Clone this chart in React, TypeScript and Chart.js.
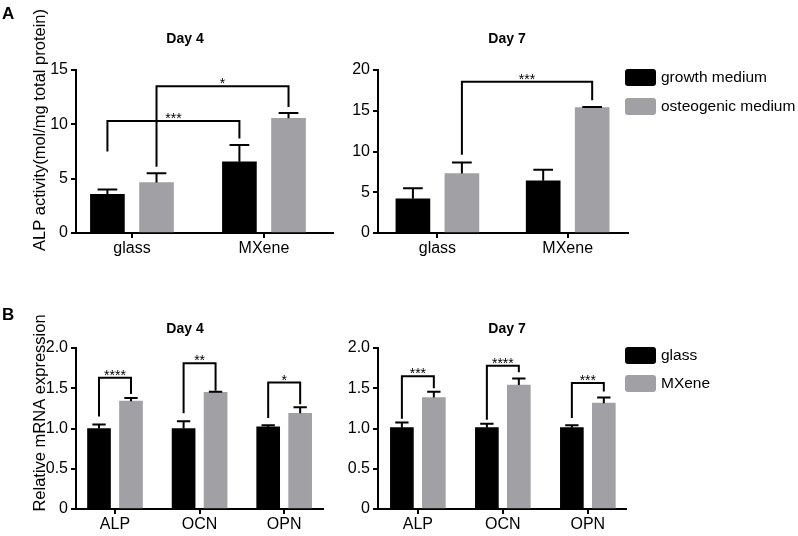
import React, { useEffect, useRef } from 'react';
import { Chart, registerables } from 'chart.js';

Chart.register(...registerables);

const W = 798;
const H = 536;
const FONT = "'Liberation Sans', Arial, Helvetica, sans-serif";
const BLACK = '#000000';
const GRAY = '#a1a1a5';

// ---------- Data: panel A (ALP activity) ----------
const A_CATEGORIES = ['glass', 'MXene'];
const A_SERIES = ['growth medium', 'osteogenic medium'];
const A_TICKS = [0, 5, 10, 15, 20];

const A4_GROWTH = [3.55, 6.55];
const A4_GROWTH_ERR = [0.45, 1.55];
const A4_OSTEO = [4.65, 10.55];
const A4_OSTEO_ERR = [0.85, 0.5];

const A7_GROWTH = [4.2, 6.4];
const A7_GROWTH_ERR = [1.3, 1.35];
const A7_OSTEO = [7.3, 15.4];
const A7_OSTEO_ERR = [1.35, 0.05];

// ---------- Data: panel B (relative mRNA expression) ----------
const B_CATEGORIES = ['ALP', 'OCN', 'OPN'];
const B_SERIES = ['glass', 'MXene'];
const B_TICKS = [0, 0.5, 1.0, 1.5, 2.0];

const B4_GLASS = [1.0, 1.0, 1.02];
const B4_GLASS_ERR = [0.05, 0.09, 0.02];
const B4_MXENE = [1.34, 1.45, 1.19];
const B4_MXENE_ERR = [0.04, 0.005, 0.075];

const B7_GLASS = [1.01, 1.01, 1.01];
const B7_GLASS_ERR = [0.065, 0.05, 0.03];
const B7_MXENE = [1.385, 1.54, 1.315];
const B7_MXENE_ERR = [0.07, 0.08, 0.07];

// ---------- Significance brackets (data units) ----------
type Bracket = { from: [number, number]; to: [number, number]; top: number; left: number; right: number; text: string };

const A4_BRACKETS: Bracket[] = [
  { from: [0, 0], to: [1, 0], top: 10.3, left: 7.5, right: 8.7, text: '***' },
  { from: [0, 1], to: [1, 1], top: 13.5, left: 6.1, right: 11.6, text: '*' },
];
const A7_BRACKETS: Bracket[] = [
  { from: [0, 1], to: [1, 1], top: 18.55, left: 9.6, right: 16.3, text: '***' },
];
const B4_BRACKETS: Bracket[] = [
  { from: [0, 0], to: [0, 1], top: 1.63, left: 1.15, right: 1.43, text: '****' },
  { from: [1, 0], to: [1, 1], top: 1.81, left: 1.19, right: 1.47, text: '**' },
  { from: [2, 0], to: [2, 1], top: 1.57, left: 1.13, right: 1.3, text: '*' },
];
const B7_BRACKETS: Bracket[] = [
  { from: [0, 0], to: [0, 1], top: 1.65, left: 1.12, right: 1.5, text: '***' },
  { from: [1, 0], to: [1, 1], top: 1.78, left: 1.11, right: 1.7, text: '****' },
  { from: [2, 0], to: [2, 1], top: 1.565, left: 1.13, right: 1.46, text: '***' },
];

type Panel = {
  letter?: string;
  letterY?: number;
  title: string;
  titleX: number;
  titleY: number;
  yTitle?: string;
  yTitleY?: number;
  categories: string[];
  series: string[];
  values: number[][];
  errors: number[][];
  yMax: number;
  yStep: number;
  yFmt: (v: number) => string;
  axisLeft: number;
  axisRight: number;
  axisTop: number;
  axisBottom: number;
  xMin: number;
  xMax: number;
  barOffset: number;
  barWidth: number;
  brackets: Bracket[];
  legendTops?: number[];
};

const fmtA = (v: number) => String(v);
const fmtB = (v: number) => (v === 0 ? '0' : v.toFixed(1));

const PANELS: Panel[] = [
  {
    letter: 'A', letterY: 19,
    title: 'Day 4', titleX: 185, titleY: 43,
    yTitle: 'ALP activity(mol/mg total protein)', yTitleY: 130,
    categories: A_CATEGORIES, series: A_SERIES,
    values: [A4_GROWTH, A4_OSTEO], errors: [A4_GROWTH_ERR, A4_OSTEO_ERR],
    yMax: A_TICKS[3], yStep: A_TICKS[1], yFmt: fmtA,
    axisLeft: 76, axisRight: 333, axisTop: 70, axisBottom: 233,
    xMin: -0.424, xMax: 1.523, barOffset: 0.186, barWidth: 34,
    brackets: A4_BRACKETS,
  },
  {
    title: 'Day 7', titleX: 507, titleY: 43,
    categories: A_CATEGORIES, series: A_SERIES,
    values: [A7_GROWTH, A7_OSTEO], errors: [A7_GROWTH_ERR, A7_OSTEO_ERR],
    yMax: A_TICKS[4], yStep: A_TICKS[1], yFmt: fmtA,
    axisLeft: 378, axisRight: 628, axisTop: 70, axisBottom: 233,
    xMin: -0.456, xMax: 1.463, barOffset: 0.188, barWidth: 34,
    brackets: A7_BRACKETS,
    legendTops: [69, 98],
  },
  {
    letter: 'B', letterY: 320,
    title: 'Day 4', titleX: 185, titleY: 333,
    yTitle: 'Relative mRNA expression', yTitleY: 413,
    categories: B_CATEGORIES, series: B_SERIES,
    values: [B4_GLASS, B4_MXENE], errors: [B4_GLASS_ERR, B4_MXENE_ERR],
    yMax: B_TICKS[4], yStep: B_TICKS[1], yFmt: fmtB,
    axisLeft: 76, axisRight: 323, axisTop: 348, axisBottom: 509,
    xMin: -0.461, xMax: 2.459, barOffset: 0.189, barWidth: 23,
    brackets: B4_BRACKETS,
  },
  {
    title: 'Day 7', titleX: 507, titleY: 333,
    categories: B_CATEGORIES, series: B_SERIES,
    values: [B7_GLASS, B7_MXENE], errors: [B7_GLASS_ERR, B7_MXENE_ERR],
    yMax: B_TICKS[4], yStep: B_TICKS[1], yFmt: fmtB,
    axisLeft: 378, axisRight: 626, axisTop: 348, axisBottom: 509,
    xMin: -0.469, xMax: 2.449, barOffset: 0.188, barWidth: 23,
    brackets: B7_BRACKETS,
    legendTops: [347, 375],
  },
];

const COLORS = [BLACK, GRAY];

function annotPlugin(p: Panel) {
  return {
    id: 'annot',
    afterDatasetsDraw(chart: any) {
      const ctx = chart.ctx as CanvasRenderingContext2D;
      const ys = chart.scales.y;
      ctx.save();
      ctx.strokeStyle = '#000';
      ctx.lineWidth = 2;
      ctx.lineCap = 'butt';
      ctx.lineJoin = 'miter';
      // error bars (upper only)
      p.series.forEach((_, s) => {
        const meta = chart.getDatasetMeta(s);
        meta.data.forEach((bar: any, i: number) => {
          const top = ys.getPixelForValue(p.values[s][i] + p.errors[s][i]);
          const cw = bar.width * 0.58;
          ctx.beginPath();
          ctx.moveTo(bar.x, bar.y);
          ctx.lineTo(bar.x, top);
          ctx.moveTo(bar.x - cw / 2, top);
          ctx.lineTo(bar.x + cw / 2, top);
          ctx.stroke();
        });
      });
      // brackets
      p.brackets.forEach((b) => {
        const x1 = chart.getDatasetMeta(b.from[1]).data[b.from[0]].x;
        const x2 = chart.getDatasetMeta(b.to[1]).data[b.to[0]].x;
        const yt = ys.getPixelForValue(b.top);
        const yl = ys.getPixelForValue(b.left);
        const yr = ys.getPixelForValue(b.right);
        ctx.beginPath();
        ctx.moveTo(x1, yl);
        ctx.lineTo(x1, yt);
        ctx.lineTo(x2, yt);
        ctx.lineTo(x2, yr);
        ctx.stroke();
        ctx.font = `14px ${FONT}`;
        ctx.textAlign = 'center';
        ctx.textBaseline = 'alphabetic';
        ctx.fillStyle = '#000';
        ctx.fillText(b.text, (x1 + x2) / 2, yt + 2);
      });
      ctx.restore();
    },
    afterDraw(chart: any) {
      const ctx = chart.ctx as CanvasRenderingContext2D;
      ctx.save();
      ctx.fillStyle = '#000';
      if (p.letter) {
        ctx.font = `bold 17px ${FONT}`;
        ctx.textAlign = 'left';
        ctx.textBaseline = 'alphabetic';
        ctx.fillText(p.letter, 2, p.letterY!);
      }
      ctx.font = `bold 14px ${FONT}`;
      ctx.textAlign = 'center';
      ctx.textBaseline = 'alphabetic';
      ctx.fillText(p.title, p.titleX, p.titleY);
      if (p.yTitle) {
        ctx.save();
        ctx.translate(40, p.yTitleY!);
        ctx.rotate(-Math.PI / 2);
        ctx.font = `16.5px ${FONT}`;
        ctx.textAlign = 'center';
        ctx.textBaseline = 'middle';
        ctx.fillText(p.yTitle, 0, 0);
        ctx.restore();
      }
      if (p.legendTops) {
        chart.data.datasets.forEach((ds: any, i: number) => {
          const top = p.legendTops![i];
          ctx.fillStyle = ds.backgroundColor;
          ctx.beginPath();
          (ctx as any).roundRect(625, top, 31, 17, 3);
          ctx.fill();
          ctx.fillStyle = '#000';
          ctx.font = `15.5px ${FONT}`;
          ctx.textAlign = 'left';
          ctx.textBaseline = 'middle';
          ctx.fillText(ds.label, 661, top + 9);
        });
      }
      ctx.restore();
    },
  };
}

function makeConfig(p: Panel): any {
  const Y_W = 50;
  const X_H = 30;
  const axisGrid = {
    display: true,
    offset: false,
    drawOnChartArea: false,
    drawTicks: true,
    tickLength: 5,
    color: '#000',
    lineWidth: 2,
  };
  const border = { display: true, color: '#000', width: 2 };
  return {
    type: 'bar',
    data: {
      datasets: p.series.map((name, s) => ({
        label: name,
        data: p.values[s].map((v, i) => ({ x: i + (s === 0 ? -p.barOffset : p.barOffset), y: v })),
        backgroundColor: COLORS[s],
        borderWidth: 0,
        grouped: false,
        barThickness: p.barWidth,
      })),
    },
    options: {
      responsive: false,
      animation: false,
      events: [],
      layout: {
        padding: {
          left: p.axisLeft - Y_W,
          top: p.axisTop,
          right: W - p.axisRight,
          bottom: H - p.axisBottom - X_H,
        },
      },
      plugins: {
        legend: { display: false },
        tooltip: { enabled: false },
        title: { display: false },
      },
      scales: {
        x: {
          type: 'linear',
          min: p.xMin,
          max: p.xMax,
          offset: false,
          grid: axisGrid,
          border,
          afterBuildTicks: (scale: any) => {
            scale.ticks = p.categories.map((_, i) => ({ value: i }));
          },
          afterFit: (scale: any) => {
            scale.height = X_H;
          },
          ticks: {
            callback: (v: any) => p.categories[v] ?? '',
            font: { family: FONT, size: 16 },
            color: '#000',
            padding: 1,
            maxRotation: 0,
            autoSkip: false,
          },
        },
        y: {
          type: 'linear',
          min: 0,
          max: p.yMax,
          grid: axisGrid,
          border,
          afterFit: (scale: any) => {
            scale.width = Y_W;
          },
          ticks: {
            stepSize: p.yStep,
            callback: (v: any) => p.yFmt(Number(v)),
            font: { family: FONT, size: 16 },
            color: '#000',
            padding: 3,
          },
        },
      },
    },
    plugins: [annotPlugin(p)],
  };
}

function PanelCanvas({ panel }: { panel: Panel }) {
  const ref = useRef<HTMLCanvasElement>(null);
  useEffect(() => {
    const chart = new Chart(ref.current as HTMLCanvasElement, makeConfig(panel));
    return () => chart.destroy();
  }, [panel]);
  return (
    <canvas
      ref={ref}
      width={W}
      height={H}
      style={{ position: 'absolute', left: 0, top: 0, width: W, height: H }}
    />
  );
}

export default function App() {
  return (
    <div
      style={{
        position: 'absolute',
        left: 0,
        top: 0,
        width: W,
        height: H,
        background: '#ffffff',
        overflow: 'hidden',
      }}
    >
      {PANELS.map((p, i) => (
        <PanelCanvas key={i} panel={p} />
      ))}
    </div>
  );
}
